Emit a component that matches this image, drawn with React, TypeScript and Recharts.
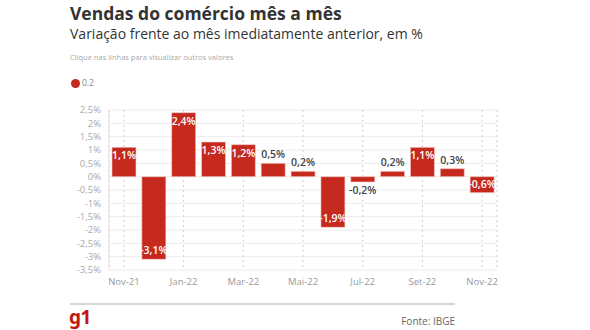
import React from "react";
import {
  BarChart,
  Bar,
  XAxis,
  YAxis,
  CartesianGrid,
  LabelList,
} from "recharts";

const months = [
  "Nov-21", "Dez-21", "Jan-22", "Fev-22", "Mar-22", "Abr-22", "Mai-22",
  "Jun-22", "Jul-22", "Ago-22", "Set-22", "Out-22", "Nov-22",
];
const variation = [1.1, -3.1, 2.4, 1.3, 1.2, 0.5, 0.2, -1.9, -0.2, 0.2, 1.1, 0.3, -0.6];
const yTicks = [-3.5, -3, -2.5, -2, -1.5, -1, -0.5, 0, 0.5, 1, 1.5, 2, 2.5];

const data = months.map((m, i) => ({ month: m, value: variation[i] }));

const FONT = "'Open Sans', 'Noto Sans', sans-serif";
const RED = "#c62a1f";

const fmt = (v: number) => `${String(v).replace(".", ",")}%`;

const ValueLabel = (props: any) => {
  const { x, y, width, height, value } = props;
  const cx = x + width / 2;
  const big = Math.abs(value) >= 0.6;
  const top = Math.min(y, y + height);
  const bottom = Math.max(y, y + height);
  let ty: number;
  if (value >= 0) ty = big ? top + 12 : top - 5;
  else ty = big ? bottom - 5 : bottom + 12;
  return (
    <text
      x={cx}
      y={ty}
      textAnchor="middle"
      fontSize={10.5}
      fontWeight={600}
      fontFamily={FONT}
      fill={big ? "#fff" : "#444"}
    >
      {fmt(value)}
    </text>
  );
};

export default function App() {
  return (
    <div
      style={{
        position: "absolute",
        left: 0,
        top: 0,
        width: 590,
        height: 330,
        background: "#fff",
        fontFamily: FONT,
        overflow: "hidden",
      }}
    >
      <div style={{ position: "absolute", left: 70, top: 3, fontSize: 17.5, lineHeight: "20px", fontWeight: 700, color: "#333" }}>
        Vendas do comércio mês a mês
      </div>
      <div style={{ position: "absolute", left: 70, top: 25, fontSize: 14, lineHeight: "18px", color: "#333" }}>
        Variação frente ao mês imediatamente anterior, em %
      </div>
      <div style={{ position: "absolute", left: 70, top: 52, fontSize: 7.5, lineHeight: "10px", color: "#aaa" }}>
        Clique nas linhas para visualizar outros valores
      </div>
      <div style={{ position: "absolute", left: 71, top: 78, display: "flex", alignItems: "center" }}>
        <span style={{ width: 9, height: 9, borderRadius: 5, background: RED, display: "inline-block" }} />
        <span style={{ fontSize: 8.5, lineHeight: "10px", color: "#888", marginLeft: 2 }}>0.2</span>
      </div>

      <div style={{ position: "absolute", left: 0, top: 0 }}>
        <BarChart
          width={590}
          height={292}
          data={data}
          margin={{ top: 110, right: 93, bottom: 0, left: 0 }}
          barCategoryGap="10%"
        >
          <CartesianGrid horizontal={true} vertical={false} stroke="#ececec" />
          <CartesianGrid horizontal={false} vertical={true} stroke="#cfcfcf" strokeDasharray="2 3" />
          <XAxis
            dataKey="month"
            interval={1}
            axisLine={false}
            tickLine={false}
            height={22}
            tick={{ fontSize: 9.5, fill: "#999", fontFamily: FONT }}
          />
          <YAxis
            domain={[-3.5, 2.5]}
            ticks={yTicks}
            interval={0}
            width={109}
            axisLine={{ stroke: "#e2e2e2" }}
            tickLine={false}
            tickFormatter={fmt}
            tick={{ fontSize: 9.5, fill: "#aaa", fontFamily: FONT }}
          />
          <Bar dataKey="value" fill={RED} stroke="#f3d0cc" strokeWidth={0.6} isAnimationActive={false}>
            <LabelList dataKey="value" content={ValueLabel} />
          </Bar>
        </BarChart>
      </div>

      <div style={{ position: "absolute", left: 70, top: 303, width: 385, height: 1.5, background: "#d6d6d6" }} />
      <div style={{ position: "absolute", left: 69, top: 308, fontSize: 19, lineHeight: "19px", fontWeight: 700, color: "#c4170c", letterSpacing: -0.5, fontFamily: "'Noto Sans', sans-serif" }}>
        g1
      </div>
      <div style={{ position: "absolute", right: 135, top: 314, fontSize: 10, lineHeight: "14px", color: "#666" }}>
        Fonte: IBGE
      </div>
    </div>
  );
}
